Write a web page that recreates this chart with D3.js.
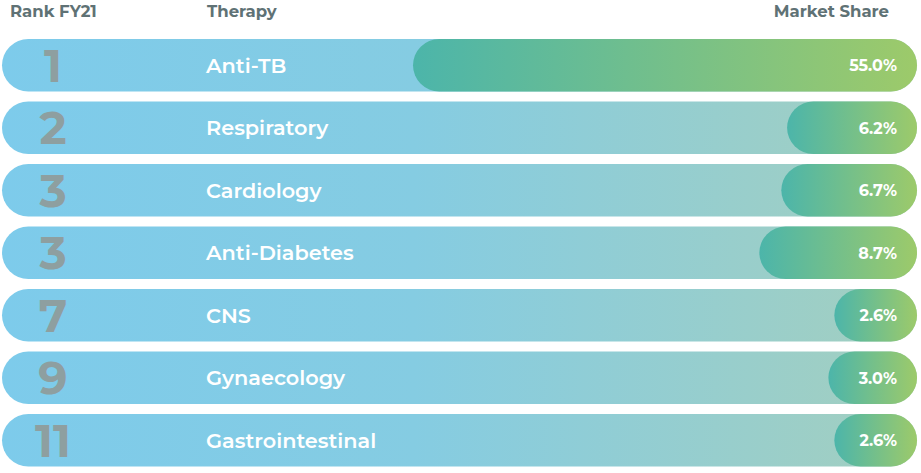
<!DOCTYPE html>
<html><head><meta charset="utf-8">
<script src="https://cdn.jsdelivr.net/npm/d3@7"></script>
<style>
html,body{margin:0;padding:0;background:#fff;}
svg{display:block;}
</style></head>
<body>
<svg id="chart" width="921" height="473"></svg>
<script>
const ranks = ["1","2","3","3","7","9","11"];
const therapies = ["Anti-TB","Respiratory","Cardiology","Anti-Diabetes","CNS","Gynaecology","Gastrointestinal"];
const shares = [55.0, 6.2, 6.7, 8.7, 2.6, 3.0, 2.6];
const headers = ["Rank FY21","Therapy","Market Share"];

const W = 921, H = 473;
const svg = d3.select("#chart");
const left = 2, right = 917;
const font = "Montserrat, 'Open Sans', Lato, sans-serif";

const y = d3.scaleBand().domain(therapies).range([39, 466.5]).paddingInner(0.16).paddingOuter(0);
const bh = y.bandwidth();
const r = bh / 2;
const w = d3.scalePow().exponent(0.7).domain([0, 55]).range([r, 504]);

const defs = svg.append("defs");
const bg = defs.append("linearGradient").attr("id","bgGrad")
  .attr("gradientUnits","userSpaceOnUse").attr("x1",left).attr("x2",right).attr("y1",0).attr("y2",0);
bg.append("stop").attr("offset","0").attr("stop-color","#7dcbeb");
bg.append("stop").attr("offset","0.45").attr("stop-color","#85cce2");
bg.append("stop").attr("offset","1").attr("stop-color","#a3cfbf");
const fg = defs.append("linearGradient").attr("id","fgGrad")
  .attr("x1","0").attr("x2","1").attr("y1","0").attr("y2","0");
fg.append("stop").attr("offset","0").attr("stop-color","#4cb5aa");
fg.append("stop").attr("offset","1").attr("stop-color","#9dca6a");

// headers
svg.append("text").attr("x",10).attr("y",17).text(headers[0]);
svg.append("text").attr("x",207).attr("y",17).text(headers[1]);
svg.append("text").attr("x",889).attr("y",17).attr("text-anchor","end").text(headers[2]);
svg.selectAll("text").attr("font-family",font).attr("font-weight",700)
  .attr("font-size",16.5).attr("fill","#5f7275");

const rows = svg.selectAll("g.row").data(therapies).join("g").attr("class","row")
  .attr("transform", d => `translate(0,${y(d)})`);

rows.append("rect").attr("x",left).attr("y",0).attr("width",right-left).attr("height",bh)
  .attr("rx",r).attr("ry",r).attr("fill","url(#bgGrad)");

rows.append("rect").attr("x",(d,i)=> right - w(shares[i])).attr("y",0)
  .attr("width",(d,i)=> w(shares[i])).attr("height",bh)
  .attr("rx",r).attr("ry",r).attr("fill","url(#fgGrad)");

rows.append("text").attr("x",53).attr("y",bh/2).attr("dy","0.36em")
  .attr("text-anchor","middle").attr("font-family",font).attr("font-weight",700)
  .attr("font-size",46).attr("fill","#8e9fa0").text((d,i)=>ranks[i]);

rows.append("text").attr("x",206).attr("y",bh/2).attr("dy","0.36em")
  .attr("font-family",font).attr("font-weight",600)
  .attr("font-size",20.8).attr("fill","#ffffff").text(d=>d);

rows.append("text").attr("x",897).attr("y",bh/2).attr("dy","0.36em")
  .attr("text-anchor","end").attr("font-family",font).attr("font-weight",700)
  .attr("font-size",16).attr("fill","#ffffff").text((d,i)=>shares[i].toFixed(1)+"%");
</script>
</body></html>
